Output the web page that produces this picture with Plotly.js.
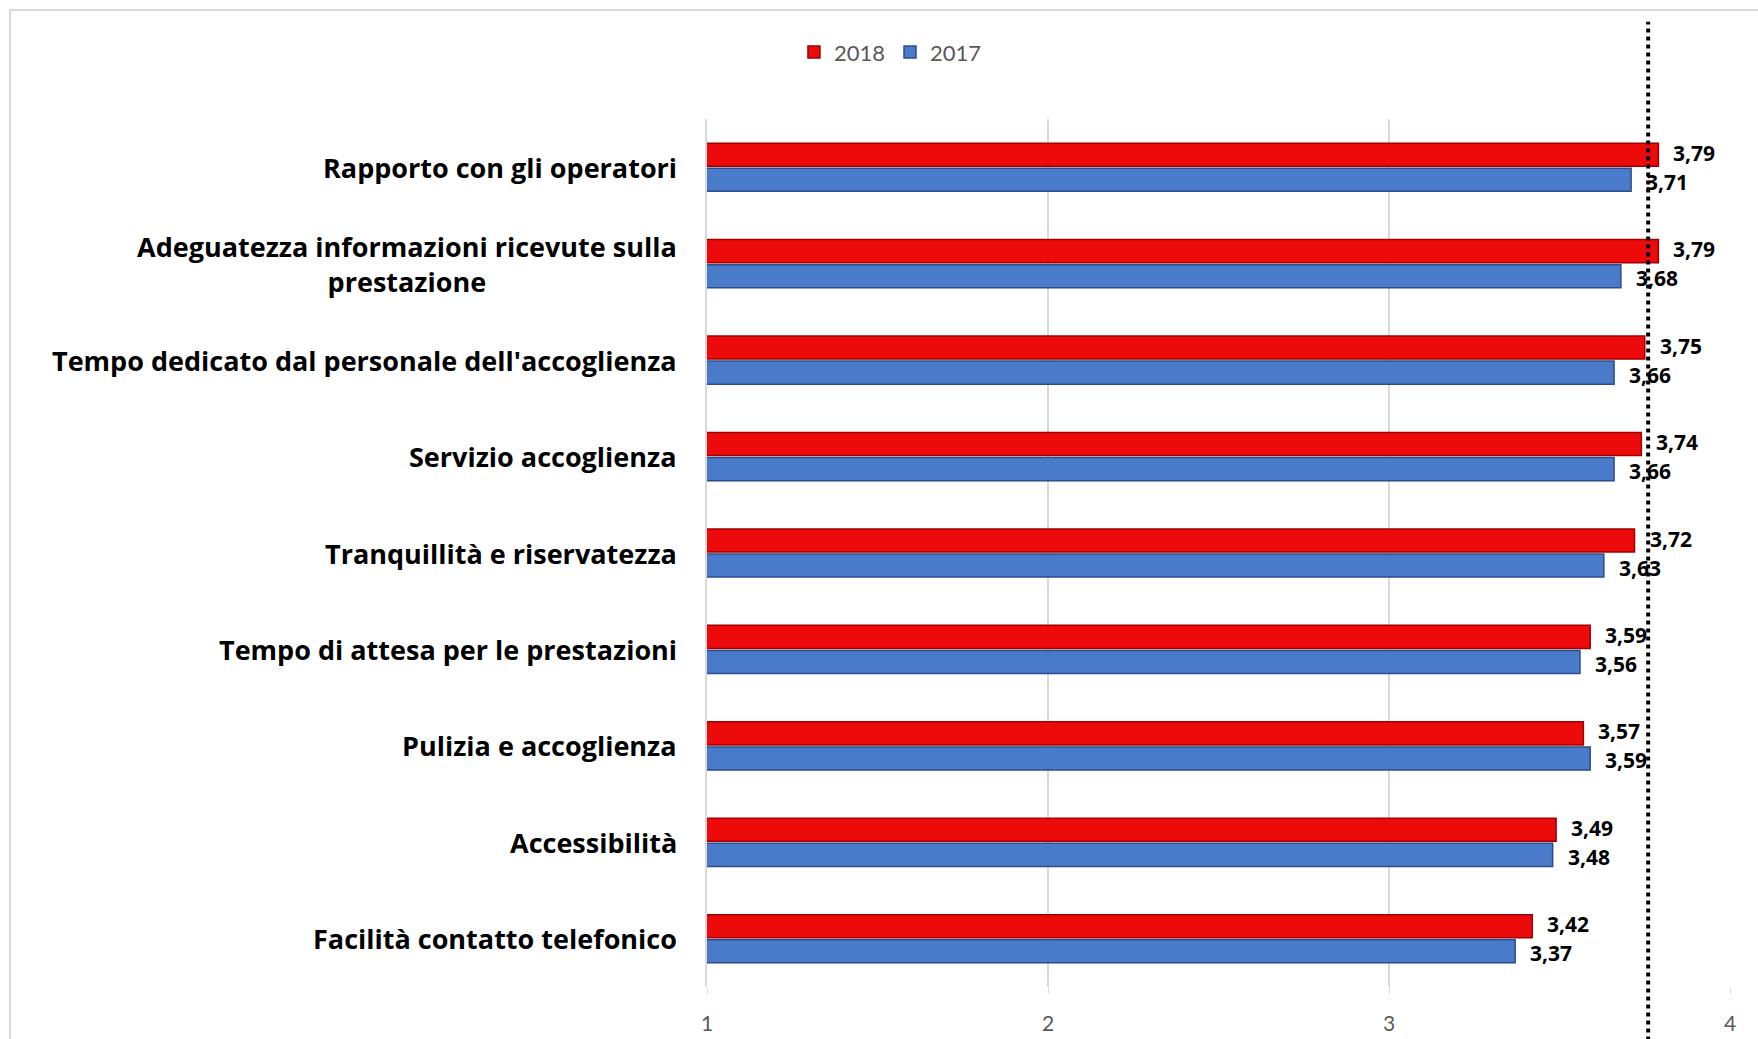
<!DOCTYPE html>
<html>
<head>
<meta charset="utf-8">
<script src="https://cdn.plot.ly/plotly-3.0.1.min.js"></script>
<style>
  html, body { margin: 0; padding: 0; background: #ffffff; overflow: hidden; }
  #chart { width: 1758px; height: 1039px; }
  #frame { position: absolute; left: 9px; top: 9px; width: 1800px; height: 1100px;
           border: 2px solid #d9d9d9; pointer-events: none; box-sizing: border-box; }
</style>
</head>
<body>
<div id="chart"></div>
<div id="frame"></div>
<script>
// ---- data (top to bottom) ----
const categories = [
  "Rapporto con gli operatori",
  "Adeguatezza informazioni ricevute sulla<br>prestazione",
  "Tempo dedicato dal personale dell'accoglienza",
  "Servizio accoglienza",
  "Tranquillità e riservatezza",
  "Tempo di attesa per le prestazioni",
  "Pulizia e accoglienza",
  "Accessibilità",
  "Facilità contatto telefonico"
];
const values2018 = [3.79, 3.79, 3.75, 3.74, 3.72, 3.59, 3.57, 3.49, 3.42];
const values2017 = [3.71, 3.68, 3.66, 3.66, 3.63, 3.56, 3.59, 3.48, 3.37];
const seriesNames = ["2018", "2017"];
const xTicks = [1, 2, 3, 4];
const referenceLine = 3.76;

const fmt = v => v.toFixed(2).replace(".", ",");

const traces = [
  {
    type: "bar", orientation: "h", name: seriesNames[0],
    y: categories, x: values2018,
    marker: { color: "#ec0a0a", line: { color: "#a00000", width: 1.5 } }
  },
  {
    type: "bar", orientation: "h", name: seriesNames[1],
    y: categories, x: values2017,
    marker: { color: "#4a7bca", line: { color: "#2b4d8a", width: 1.5 } }
  }
];

const catAnnotations = categories.map(c => ({
  xref: "paper", yref: "y", x: 0, y: c, xanchor: "right", xshift: -28,
  text: "<b>" + c + "</b>", showarrow: false, align: "center",
  font: { family: "'Open Sans', sans-serif", size: 27, color: "#000000" }
}));

const valueFont = { family: "'Open Sans', sans-serif", size: 21, color: "#000000" };
const mkValueAnn = (vals, shift) => vals.map((v, i) => ({
  xref: "x", yref: "y", x: v, y: categories[i], xanchor: "left", yanchor: "middle",
  xshift: 15, yshift: shift, showarrow: false, borderpad: 0, borderwidth: 0,
  text: "<b>" + fmt(v) + "</b>", font: valueFont
}));

const layout = {
  width: 1758, height: 1039,
  margin: { l: 707, r: 28, t: 119, b: 52 },
  paper_bgcolor: "#ffffff", plot_bgcolor: "#ffffff",
  separators: ",.",
  barmode: "group", bargap: 0.48, bargroupgap: 0.08,
  showlegend: true,
  legend: {
    orientation: "h", x: 0.085, y: 1.077, xanchor: "left", yanchor: "middle",
    font: { family: "Lato, 'Open Sans', sans-serif", size: 22, color: "#595959" },
    itemwidth: 30, traceorder: "normal"
  },
  xaxis: {
    range: [1, 4], tickvals: xTicks, ticktext: xTicks.map(String),
    showgrid: true, gridcolor: "#d9d9d9", gridwidth: 1.5, zeroline: false,
    ticks: "outside", ticklen: 6, tickcolor: "#d9d9d9",
    ticklabelstandoff: 12,
    tickfont: { family: "Lato, 'Open Sans', sans-serif", size: 21, color: "#595959" },
    showline: false, fixedrange: true
  },
  yaxis: {
    type: "category", autorange: "reversed", showticklabels: false,
    showline: true, linecolor: "#d9d9d9", linewidth: 2, ticks: "", showgrid: false
  },
  annotations: catAnnotations
    .concat(mkValueAnn(values2018, 14.5))
    .concat(mkValueAnn(values2017, -14.5)),
  shapes: [{
    type: "line", layer: "above", xref: "x", yref: "paper",
    x0: referenceLine, x1: referenceLine, y0: -0.08, y1: 1.112,
    line: { color: "#000000", width: 4, dash: "4px,4px" }
  }]
};

Plotly.newPlot("chart", traces, layout, { displayModeBar: false, staticPlot: true });
</script>
</body>
</html>
